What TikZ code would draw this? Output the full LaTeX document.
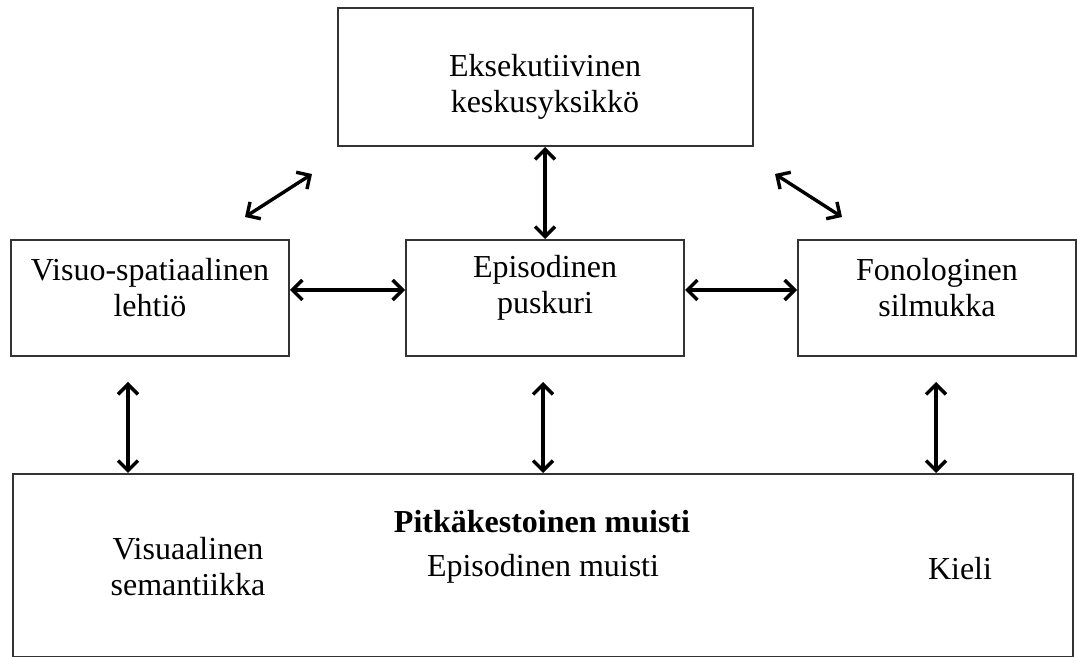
\documentclass[tikz,border=0pt]{standalone}
\usepackage{fontspec}
\setmainfont{Liberation Serif}
\usetikzlibrary{arrows.meta,positioning}

\begin{document}
\begin{tikzpicture}[
  x=0.5pt, y=-0.5pt, font=\fontsize{16}{18}\selectfont,
  box/.style={rectangle,draw=black!80,line width=1pt,minimum width=139pt,minimum height=58pt,inner sep=0pt},
  txt/.style={align=center,inner sep=0pt},
  arr/.style={{Straight Barb[length=5pt,width=10pt]}-{Straight Barb[length=5pt,width=10pt]},line width=1.7pt}]
\useasboundingbox (0,0) rectangle (1077,657);
% boxes
\node[box] (ep) at (545,298) {};
\node[box, left=57.5pt of ep] (vs) {};
\node[box, right=56pt of ep] (fs) {};
\node[box, above=46pt of ep, minimum width=207.5pt, minimum height=69pt] (ke) {};
\node[box, below=58pt of ep, xshift=-1pt, minimum width=530pt, minimum height=91.5pt] (pm) {};
% texts
\node[txt] (ket) at ([yshift=-5pt]ke.center) {Eksekutiivinen\\keskusyksikkö};
\node[txt] (vst) at ([yshift=5pt]vs.center) {Visuo-spatiaalinen\\lehtiö};
\node[txt] (ept) at ([yshift=5pt]ep.center) {Episodinen\\puskuri};
\node[txt] (fst) at ([yshift=5pt]fs.center) {Fonologinen\\silmukka};
\node[txt] (pmt) at (542,522) {\textbf{Pitkäkestoinen muisti}};
\node[txt] (vis) at (188,567) {Visuaalinen\\semantiikka};
\node[txt] (epm) at (543,569) {Episodinen muisti};
\node[txt] (kie) at (960,569) {Kieli};
% free ends
\coordinate (d1) at (245,217);
\coordinate (d2) at (312,174);
\coordinate (d3) at (775,174);
\coordinate (d4) at (842,217);
\coordinate (b1) at (128,382);
\coordinate (b2) at (543,382);
\coordinate (b3) at (936,382);
% connectors
\draw[arr] (d1) -- (d2);
\draw[arr] (d3) -- (d4);
\draw[arr] (ke) -- (ep);
\draw[arr] ([yshift=4pt]vs.east) -- ([yshift=4pt]ep.west);
\draw[arr] ([yshift=4pt]ep.east) -- ([yshift=4pt]fs.west);
\draw[arr] (b1) -- (b1 |- pm.north);
\draw[arr] (b2) -- (b2 |- pm.north);
\draw[arr] (b3) -- (b3 |- pm.north);
\end{tikzpicture}
\end{document}
